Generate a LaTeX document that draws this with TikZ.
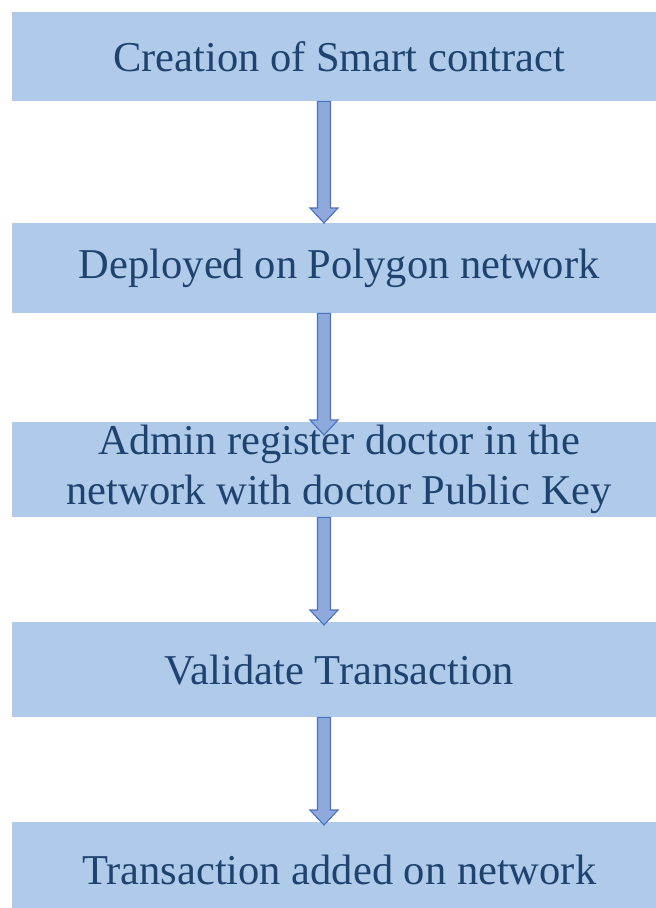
\documentclass[tikz,border=0pt]{standalone}
\usepackage{fontspec}
\setmainfont{Liberation Serif}
\usetikzlibrary{calc}
\definecolor{boxfill}{HTML}{AFCBE9}
\definecolor{arrfill}{HTML}{8EA9DB}
\definecolor{arredge}{HTML}{4A72C0}
\definecolor{txtcol}{HTML}{1F4371}
\newcommand\myblockarrow[2]{%
  \path[arrowshape] let \p1=(#1), \p2=(#2) in
    (\x1-6.5pt,\y1) -- (\x1+6.5pt,\y1) -- (\x1+6.5pt,\y2+15pt) -- (\x1+14pt,\y2+15pt)
    -- (\x1,\y2) -- (\x1-14pt,\y2+15pt) -- (\x1-6.5pt,\y2+15pt) -- cycle;}
\begin{document}
\begin{tikzpicture}[x=1pt,y=-1pt,
  stepbox/.style={fill=boxfill, draw=none, inner sep=0pt, text=txtcol,
    font=\fontsize{42.5}{50}\selectfont, align=center, minimum width=654pt, anchor=north west},
  arrowshape/.style={fill=arrfill, draw=arredge, line width=1.1pt, line join=miter}]
\clip (0,0) rectangle (656,908);
\fill[white] (0,0) rectangle (656,908);
\node[stepbox, minimum height=89pt] (b1) at (12,12) {Creation of Smart contract};
\node[stepbox, minimum height=90pt] (b2) at (12,223) {Deployed on Polygon network};
\node[stepbox, minimum height=95pt] (b3) at (12,422) {Admin register doctor in the\\network with doctor Public Key};
\node[stepbox, minimum height=95pt] (b4) at (12,622) {Validate Transaction};
\node[stepbox, minimum height=95pt] (b5) at (12,822) {Transaction added on network};
\coordinate (ax) at (324,0);
\myblockarrow{b1.south -| ax}{b2.north -| ax}
\myblockarrow{b2.south -| ax}{$(b3.north -| ax)+(0,13)$}
\myblockarrow{b3.south -| ax}{$(b4.north -| ax)+(0,3)$}
\myblockarrow{b4.south -| ax}{$(b5.north -| ax)+(0,3)$}
\end{tikzpicture}
\end{document}
